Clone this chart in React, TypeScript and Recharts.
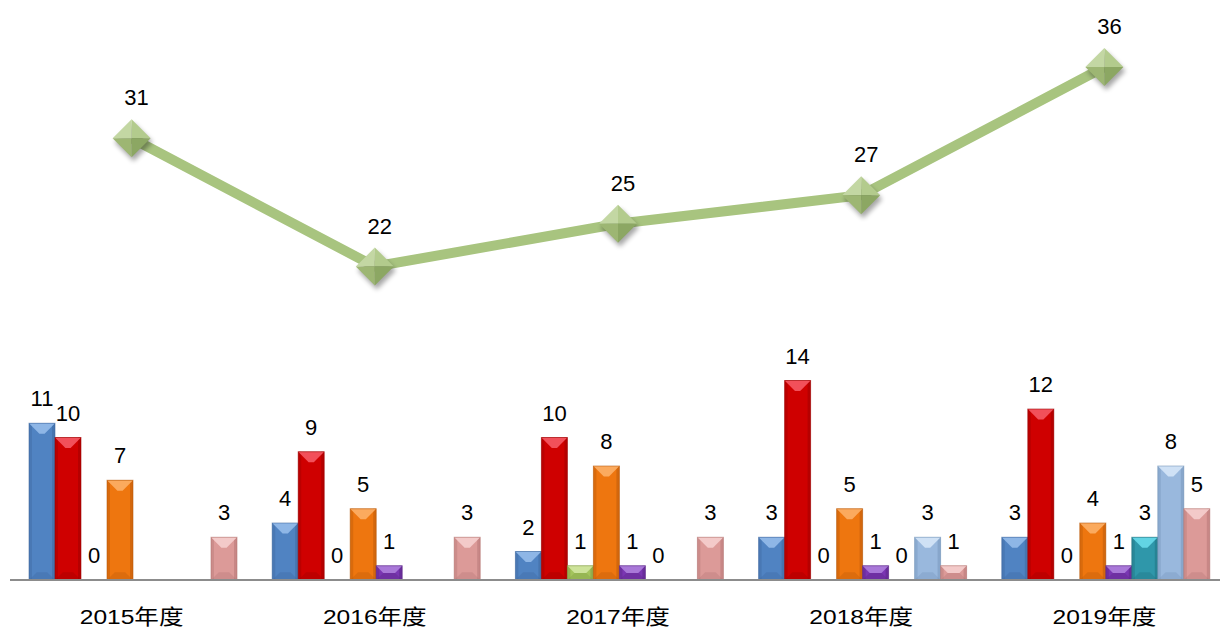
import React from 'react';
import { ComposedChart, Bar, Line, XAxis, YAxis, LabelList } from 'recharts';

const categories = ['2015年度', '2016年度', '2017年度', '2018年度', '2019年度'];
const seriesBlue = [11, 4, 2, 3, 3];
const seriesRed = [10, 9, 10, 14, 12];
const seriesGreen = [0, 0, 1, 0, 0];
const seriesOrange = [7, 5, 8, 5, 4];
const seriesPurple = [null, 1, 1, 1, 1];
const seriesTeal = [null, null, 0, 0, 3];
const seriesLightBlue = [null, null, null, 3, 8];
const seriesPink = [3, 3, 3, 1, 5];
const totals = [31, 22, 25, 27, 36];

const SERIES = [
  { key: 'blue', values: seriesBlue, base: '#5083C2', light: '#8EB6E6', dark: '#3B649A' },
  { key: 'red', values: seriesRed, base: '#CF0000', light: '#F2505A', dark: '#960000' },
  { key: 'green', values: seriesGreen, base: '#A3C45C', light: '#CDE39A', dark: '#7A9440' },
  { key: 'orange', values: seriesOrange, base: '#EE760F', light: '#FBAA5E', dark: '#B2560A' },
  { key: 'purple', values: seriesPurple, base: '#7A36B2', light: '#A978D8', dark: '#55237E' },
  { key: 'teal', values: seriesTeal, base: '#2F97AA', light: '#62D4E4', dark: '#1F6B79' },
  { key: 'lightblue', values: seriesLightBlue, base: '#99B8DD', light: '#CFE1F5', dark: '#7090B5' },
  { key: 'pink', values: seriesPink, base: '#DC9A98', light: '#F3CAC9', dark: '#B07270' },
];

const data = categories.map((c, i) => {
  const row: any = { category: c, total: totals[i] };
  SERIES.forEach((s) => {
    row[s.key] = s.values[i];
  });
  return row;
});

const FONT = "'Liberation Sans', Arial, 'Noto Sans CJK SC', sans-serif";

function BevelBar(props: any) {
  const { x, y, width, height, base, light, dark } = props;
  if (height == null || !(height > 0.5) || !(width > 0)) return null;
  const b = Math.min(width * 0.4, height / 2);
  const bb = Math.min(width * 0.3, height / 2);
  const s = Math.min(3, width / 8);
  return (
    <g>
      <rect x={x} y={y} width={width} height={height} fill={base} />
      <rect x={x} y={y} width={s} height={height} fill={dark} opacity={0.35} />
      <rect x={x + width - s} y={y} width={s} height={height} fill={dark} opacity={0.45} />
      <polygon
        points={`${x},${y + height} ${x + width},${y + height} ${x + width - bb},${y + height - bb} ${x + bb},${y + height - bb}`}
        fill={dark}
        opacity={0.3}
      />
      <polygon
        points={`${x},${y} ${x + width},${y} ${x + width - b},${y + b} ${x + b},${y + b}`}
        fill={light}
      />
      <rect x={x} y={y} width={width} height={height} fill="none" stroke={dark} strokeOpacity={0.55} strokeWidth={1} />
    </g>
  );
}

function barLabel(p: any) {
  const { x, y, width, value } = p;
  if (value == null || x == null) return null;
  return (
    <text x={Number(x) + Number(width) / 2} y={Number(y) - 17} textAnchor="middle" fontSize={22} fontFamily={FONT} fill="#000">
      {value}
    </text>
  );
}

function lineLabel(p: any) {
  const { x, y, value } = p;
  if (value == null) return null;
  return (
    <text x={Number(x) + 5} y={Number(y) - 33} textAnchor="middle" fontSize={22} fontFamily={FONT} fill="#000">
      {value}
    </text>
  );
}

function Diamond(p: any) {
  const { cx, cy, index } = p;
  if (cx == null || cy == null) return null;
  const r = 19;
  const fid = `dshadow${index}`;
  const T = `${cx},${cy - r}`;
  const R = `${cx + r},${cy}`;
  const B = `${cx},${cy + r}`;
  const L = `${cx - r},${cy}`;
  const C = `${cx},${cy}`;
  return (
    <g>
      <defs>
        <filter id={fid} x="-50%" y="-50%" width="200%" height="200%">
          <feGaussianBlur stdDeviation="2.5" />
        </filter>
      </defs>
      <polygon points={`${cx + 2},${cy - r + 4} ${cx + r + 2},${cy + 4} ${cx + 2},${cy + r + 4} ${cx - r + 2},${cy + 4}`} fill="#000" opacity={0.35} filter={`url(#${fid})`} />
      <polygon points={`${L} ${T} ${C}`} fill="#C3D7A3" />
      <polygon points={`${T} ${R} ${C}`} fill="#B3CB8D" />
      <polygon points={`${L} ${B} ${C}`} fill="#9DB673" />
      <polygon points={`${R} ${B} ${C}`} fill="#8CA763" />
    </g>
  );
}

function CategoryTick(p: any) {
  const { x, y, payload } = p;
  const ty = Number(y) + 36;
  return (
    <g transform={`translate(${x},${ty}) scale(1.17,1)`}>
      <text x={0} y={0} textAnchor="middle" fontSize={21} fontFamily={FONT} fill="#000">
        {payload.value}
      </text>
    </g>
  );
}

export default function App() {
  return (
    <div style={{ position: 'absolute', left: 0, top: 0, width: 1220, height: 628, overflow: 'hidden', background: '#fff' }}>
      <ComposedChart
        width={1236}
        height={628}
        data={data}
        margin={{ top: 10, right: 10, bottom: 0, left: 10 }}
        barCategoryGap={19}
        barGap={0}
      >
        <XAxis
          dataKey="category"
          axisLine={{ stroke: '#8C8C8C', strokeWidth: 2 }}
          tickLine={false}
          height={48}
          tick={<CategoryTick />}
          interval={0}
        />
        <YAxis hide domain={[0, 40]} />
        {SERIES.map((s) => (
          <Bar
            key={s.key}
            dataKey={s.key}
            fill={s.base}
            isAnimationActive={false}
            shape={(props: any) => <BevelBar {...props} base={s.base} light={s.light} dark={s.dark} />}
          >
            <LabelList dataKey={s.key} content={barLabel} />
          </Bar>
        ))}
        <Line
          dataKey="total"
          stroke="#A8C47F"
          strokeWidth={10}
          dot={<Diamond />}
          activeDot={false}
          isAnimationActive={false}
        >
          <LabelList dataKey="total" content={lineLabel} />
        </Line>
      </ComposedChart>
    </div>
  );
}
